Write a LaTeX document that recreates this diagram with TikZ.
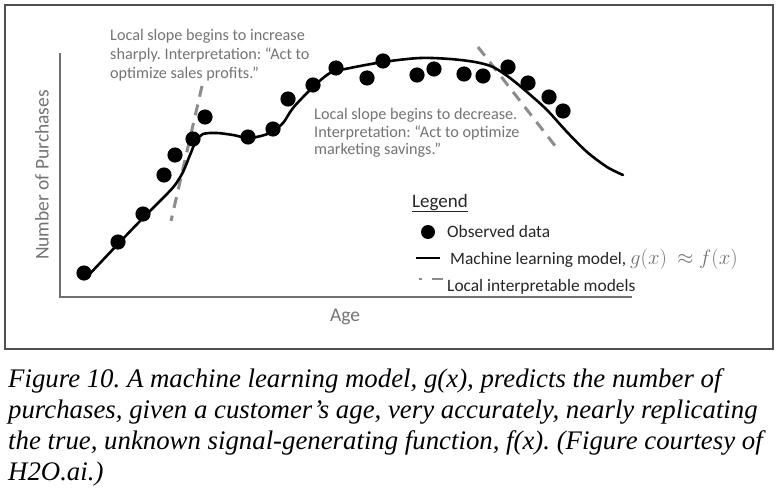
\documentclass[tikz,border=0pt]{standalone}
\usepackage{fontspec}
\setmainfont{Carlito}
\newfontfamily\capfont{Liberation Serif}
\definecolor{txtgray}{HTML}{747474}
\definecolor{axgray}{HTML}{707070}
\definecolor{dashgray}{HTML}{8C8C8C}
\definecolor{boxgray}{HTML}{505050}
\frenchspacing
\begin{document}
\begin{tikzpicture}[x=1pt,y=-1pt,
  annot/.style={anchor=base west,inner sep=0pt,text=txtgray,font=\fontsize{16.2}{18}\selectfont},
  legtext/.style={anchor=base west,inner sep=0pt,text=black!85,font=\fontsize{17.4}{19}\selectfont},
  axlabel/.style={inner sep=0pt,text=txtgray,font=\fontsize{19.5}{21}\selectfont},
  captext/.style={anchor=base west,inner sep=0pt,font=\capfont\itshape\fontsize{26.8}{30}\selectfont},
  datadot/.style={fill=black,draw=none},
  model/.style={line width=2.6pt,black,line cap=round,line join=round},
  localmodel/.style={line width=3pt,dashgray,dash pattern=on 11pt off 8pt},
  axisline/.style={line width=1.6pt,axgray}]
\useasboundingbox (0,0) rectangle (784,503);
\fill[white] (0,0) rectangle (784,503);
% frame
\draw[boxgray,line width=1.3pt] (5,5) rectangle (773,349);
% axes
\coordinate (yt) at (60,53);
\coordinate (o) at (60,297);
\coordinate (xr) at (632,297);
\draw[axisline] (yt) -- (o) -- (xr);
\node[axlabel,rotate=90] (ylab) at (42,175) {Number of Purchases};
\node[axlabel] (xlab) at (345,317) {Age};
% local interpretable models
\coordinate (l1a) at (202,86);
\coordinate (l1b) at (171,221);
\draw[localmodel] (l1a) -- (l1b);
\coordinate (l2a) at (478,47);
\coordinate (l2b) at (556,147);
\draw[localmodel] (l2a) -- (l2b);
% model curve
\draw[model] plot[smooth,tension=0.5] coordinates {
 (85,279) (118,244) (143,218) (165,196) (175,185) (183,172) (190,155) (196,141)
 (203,134) (217,133) (233,135) (250,138) (270,133) (283,123) (293,108) (313,87)
 (330,73) (345,69) (383,62) (420,58) (450,59) (475,62) (493,67) (510,78)
 (527,92) (547,110) (567,132) (587,152) (607,167) (623,175)};
% observed data
\foreach \px/\py in {84/273,118/242,143/214,164/175,175/155,193/139,205/117,
  248/137,273/129,288/99,313/85,336/68,367/78,383/61,417/75,434/69,464/74,
  483/76,508/67,528/83,549/97,563/111}
  \fill[datadot] (\px,\py) circle[radius=7.6pt];
% annotations
\node[annot] (a1) at (110,41) {Local slope begins to increase};
\node[annot] (a2) at (110,59.5) {sharply. Interpretation: “Act to};
\node[annot] (a3) at (110,78) {optimize sales profits.”};
\node[annot] (b1) at (314,119) {Local slope begins to decrease.};
\node[annot] (b2) at (314,137) {Interpretation: “Act to optimize};
\node[annot] (b3) at (314,154.5) {marketing savings.”};
% legend
\node[legtext,font=\fontsize{19}{21}\selectfont] (lg) at (412,207) {\underline{Legend}};
\fill[datadot] (428,232) circle[radius=7pt];
\node[legtext] (lg1) at (447,237) {Observed data};
\coordinate (s1) at (416,258);
\coordinate (s2) at (440,258);
\draw[line width=2.6pt,black] (s1) -- (s2);
\node[legtext] (lg2) at (450,264) {Machine learning model, {\fontsize{20.5}{22}\selectfont\textcolor{txtgray}{$g(x)\ \approx f(x)$}}};
\coordinate (d1) at (419,279);
\coordinate (d2) at (421.5,279);
\coordinate (d3) at (432,279);
\coordinate (d4) at (443,279);
\draw[line width=2.4pt,dashgray] (d1) -- (d2) (d3) -- (d4);
\node[legtext] (lg3) at (447,291) {Local interpretable models};
% caption
\node[captext] (c1) at (8,387) {Figure 10. A machine learning model, g(x), predicts the number of};
\node[captext] (c2) at (8,418) {purchases, given a customer’s age, very accurately, nearly replicating};
\node[captext] (c3) at (8,449) {the true, unknown signal-generating function, f(x). (Figure courtesy of};
\node[captext] (c4) at (8,480) {H2O.ai.)};
\end{tikzpicture}
\end{document}
